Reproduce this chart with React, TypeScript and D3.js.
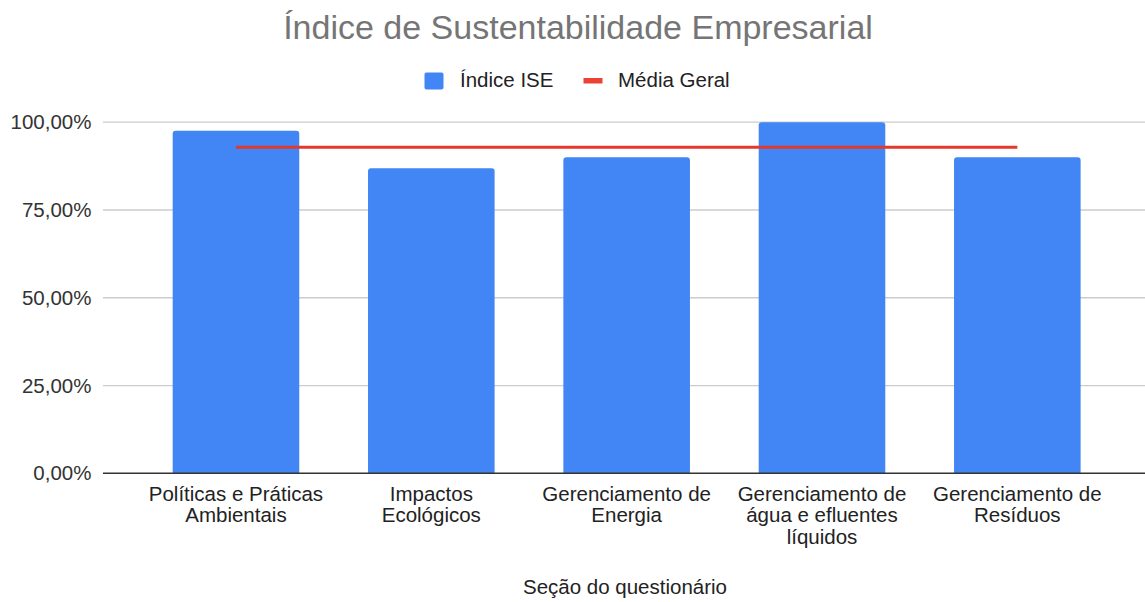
import React from "react";
import * as d3 from "d3";

const categories: string[][] = [
  ["Políticas e Práticas", "Ambientais"],
  ["Impactos", "Ecológicos"],
  ["Gerenciamento de", "Energia"],
  ["Gerenciamento de", "água e efluentes", "líquidos"],
  ["Gerenciamento de", "Resíduos"],
];
const indiceISE: number[] = [0.976, 0.869, 0.9, 1.0, 0.9];
const mediaGeral: number = 0.929;
const yTicks: number[] = [0, 0.25, 0.5, 0.75, 1.0];

const W = 1145;
const H = 602;
const FONT = "Arial, 'Liberation Sans', sans-serif";
const FS = 20.5;

export default function App() {
  const x = d3
    .scaleBand<number>()
    .domain(categories.map((_, i) => i))
    .range([138.3, 1115])
    .paddingInner(0.352)
    .paddingOuter(0.176);
  const y = d3.scaleLinear().domain([0, 1]).range([473.3, 122.2]);
  const fmt = (v: number) => (v * 100).toFixed(2).replace(".", ",") + "%";
  const bw = x.bandwidth();
  const r = 3;
  const barPath = (i: number, v: number) => {
    const x0 = x(i)!;
    const x1 = x0 + bw;
    const y0 = y(0);
    const y1 = y(v);
    return `M${x0},${y0}V${y1 + r}Q${x0},${y1} ${x0 + r},${y1}H${x1 - r}Q${x1},${y1} ${x1},${y1 + r}V${y0}Z`;
  };
  const cx = (i: number) => x(i)! + bw / 2;
  const line = d3
    .line<number>()
    .x((_, i) => cx(i))
    .y(() => y(mediaGeral));

  return (
    <svg width={W} height={H} style={{ position: "absolute", left: 0, top: 0, background: "#fff" }} fontFamily={FONT}>
      <rect x={0} y={0} width={W} height={H} fill="#fff" />
      <text x={578} y={38.5} textAnchor="middle" fontSize={34} fill="#757575">
        Índice de Sustentabilidade Empresarial
      </text>
      {/* legend */}
      <rect x={424.5} y={72.5} width={19} height={17} rx={2} fill="#4285F4" />
      <text x={460} y={87} fontSize={FS} fill="#222">Índice ISE</text>
      <rect x={583.5} y={78} width={19} height={5.5} fill="#EA4335" />
      <text x={618} y={87} fontSize={FS} fill="#222">Média Geral</text>

      {/* gridlines */}
      {yTicks.map((t) => (
        <g key={t}>
          {t > 0 && <line x1={103} x2={W} y1={y(t)} y2={y(t)} stroke="#cccccc" strokeWidth={1.3} />}
          <text x={91.5} y={y(t)} dy="0.35em" textAnchor="end" fontSize={FS} fill="#333">
            {fmt(t)}
          </text>
        </g>
      ))}

      {/* bars */}
      {indiceISE.map((v, i) => (
        <path key={i} d={barPath(i, v)} fill="#4285F4" />
      ))}

      {/* baseline */}
      <line x1={103} x2={W} y1={y(0)} y2={y(0)} stroke="#333" strokeWidth={1.5} />

      {/* mean line */}
      <path d={line(indiceISE) || ""} fill="none" stroke="#E3392C" strokeWidth={3} />

      {/* x labels */}
      {categories.map((lines, i) => (
        <text key={i} x={cx(i)} y={500.5} textAnchor="middle" fontSize={FS} fill="#222">
          {lines.map((l, j) => (
            <tspan key={j} x={cx(i)} dy={j === 0 ? 0 : 21.5}>
              {l}
            </tspan>
          ))}
        </text>
      ))}

      <text x={625} y={593.5} textAnchor="middle" fontSize={FS} fill="#222">
        Seção do questionário
      </text>
    </svg>
  );
}
